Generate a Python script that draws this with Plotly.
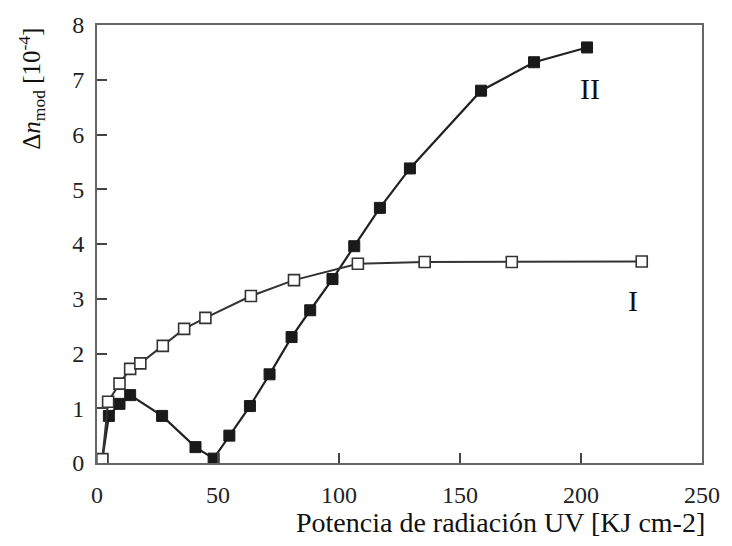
import plotly.graph_objects as go

# Curve I (open squares)
x_I = [2.2, 4.6, 9.3, 13.7, 17.9, 27.2, 36.0, 44.8, 63.6, 81.4, 107.8, 135.4, 171.4, 225.1]
y_I = [0.07, 1.12, 1.45, 1.72, 1.82, 2.14, 2.45, 2.65, 3.05, 3.34, 3.64, 3.67, 3.67, 3.68]

# Curve II (filled squares)
x_II = [2.2, 4.9, 9.3, 13.7, 26.9, 40.7, 48.2, 54.7, 63.2, 71.3, 80.4, 88.1, 97.3,
        106.3, 116.9, 129.3, 158.7, 180.6, 202.5]
y_II = [0.07, 0.86, 1.08, 1.24, 0.86, 0.29, 0.08, 0.50, 1.04, 1.62, 2.30, 2.79, 3.36,
        3.96, 4.66, 5.38, 6.80, 7.32, 7.59]

x_ticks = [0, 50, 100, 150, 200, 250]
y_ticks = [0, 1, 2, 3, 4, 5, 6, 7, 8]

FONT = "Liberation Serif"

fig = go.Figure()

fig.add_trace(go.Scatter(
    x=x_II, y=y_II, mode="lines+markers",
    line=dict(color="#222222", width=2.2),
    marker=dict(symbol="square", size=11, color="#1a1a1a",
                line=dict(color="#1a1a1a", width=1)),
    showlegend=False,
))

fig.add_trace(go.Scatter(
    x=x_I, y=y_I, mode="lines+markers",
    line=dict(color="#333333", width=2),
    marker=dict(symbol="square", size=11, color="white",
                line=dict(color="#333333", width=1.6)),
    showlegend=False,
))

axis_common = dict(
    showgrid=False, zeroline=False,
    showline=True, linecolor="#666666", linewidth=2, mirror=True,
    ticks="inside", ticklen=10, tickwidth=1.5, tickcolor="#444444",
    tickfont=dict(family=FONT, size=24, color="#222222"),
)

fig.update_xaxes(range=[0, 250], tickvals=x_ticks, ticklabelstandoff=9, **axis_common)
fig.update_yaxes(range=[0, 8], tickvals=y_ticks, ticklabelstandoff=6, **axis_common)

fig.add_annotation(text="II", x=203.7, y=6.84, xref="x", yref="y", showarrow=False,
                   font=dict(family=FONT, size=30, color="#111111"))
fig.add_annotation(text="I", x=221.6, y=2.96, xref="x", yref="y", showarrow=False,
                   font=dict(family=FONT, size=30, color="#111111"))

# Axis titles
fig.add_annotation(text="Potencia de radiación UV [KJ cm-2]",
                   x=718, y=524, xref="paper", yref="paper", showarrow=False,
                   xanchor="right", yanchor="middle",
                   font=dict(family=FONT, size=28, color="#111111"))
fig.add_annotation(text="Δ<i>n</i><sub>mod</sub> [10<sup>-4</sup>]",
                   x=30, y=80, xref="paper", yref="paper", showarrow=False,
                   textangle=-90, xanchor="center", yanchor="middle",
                   font=dict(family=FONT, size=25, color="#111111"))

W, H = 732, 546
L, R, T, B = 97, 19, 15, 83

# convert the pixel-placed title annotations into paper coordinates
for ann in fig.layout.annotations:
    if ann.xref == "paper":
        ann.x = (ann.x - L) / (W - L - R)
        ann.y = (H - B - ann.y) / (H - T - B)

fig.update_layout(
    width=W, height=H,
    margin=dict(l=L, r=R, t=T, b=B),
    plot_bgcolor="white", paper_bgcolor="white",
)

fig.write_html("out.html")
